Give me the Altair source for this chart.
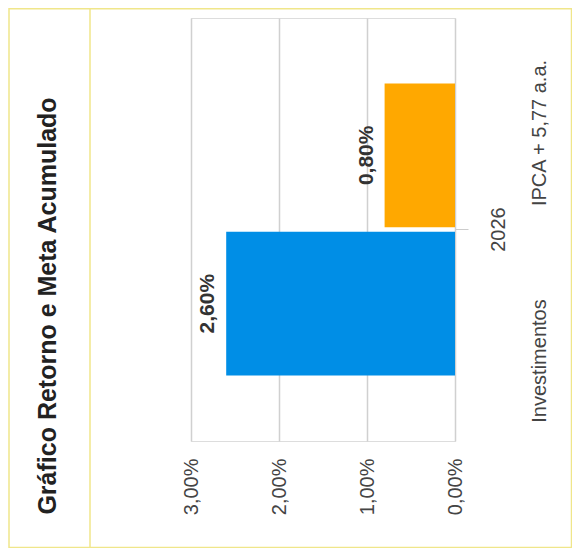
import altair as alt
import pandas as pd

# ---- data ----
titulo = "Gráfico Retorno e Meta Acumulado"
categorias = ["2026", "2026"]
series = ["Investimentos", "IPCA + 5,77 a.a."]
valores = [0.026, 0.008]
cores = ["#008ee6", "#ffa800"]
ticks_x = [0.0, 0.01, 0.02, 0.03]

df = pd.DataFrame({"categoria": categorias, "serie": series, "valor": valores})

FONT = "Liberation Sans"
fmt = "replace(format(datum.value, '.2%'), '.', ',')"

base = alt.Chart(df)

x_enc = alt.X(
    "valor:Q",
    scale=alt.Scale(domain=[0, 0.03], reverse=True, nice=False, zero=True),
    axis=alt.Axis(
        values=ticks_x, labelExpr=fmt, labelAngle=270, labelFontSize=20,
        labelColor="#444444", labelFont=FONT, labelPadding=17, ticks=False,
        domain=False, gridColor="#d0d0d0", gridWidth=1.5, title=None,
    ),
)
y_enc = alt.Y(
    "categoria:N",
    scale=alt.Scale(paddingInner=0, paddingOuter=0.224),
    axis=alt.Axis(
        orient="right", labelAngle=270, labelAlign="center", labelBaseline="top",
        labelFontSize=20, labelColor="#444444", labelFont=FONT, labelPadding=20,
        tickSize=13, tickColor="#cccccc", domain=False, grid=False, title=None,
    ),
)
yoff_enc = alt.YOffset(
    "serie:N", sort=[series[1], series[0]],
    scale=alt.Scale(paddingInner=0.03, paddingOuter=0),
)

bars = base.mark_bar().encode(
    x=x_enc, y=y_enc, yOffset=yoff_enc,
    color=alt.Color("serie:N", scale=alt.Scale(domain=series, range=cores), legend=None),
)

labels = base.transform_calculate(
    rot="replace(format(datum.valor, '.2%'), '.', ',')"
).mark_text(
    angle=270, align="center", baseline="alphabetic", dy=-12,
    fontSize=21, fontWeight="bold", color="#333333", font=FONT,
).encode(x="valor:Q", y="categoria:N", yOffset=yoff_enc, text="rot:N")

one = alt.Data(values=[{"a": 1}])

border = alt.Chart(one).mark_rect(
    fill=None, stroke="#f0e68a", strokeWidth=1.5
).encode(
    x=alt.value(-182), x2=alt.value(380.5), y=alt.value(-9.2), y2=alt.value(529.5)
)
divider = alt.Chart(one).mark_rule(
    stroke="#f0e68a", strokeWidth=1.5
).encode(x=alt.value(-101), y=alt.value(-10), y2=alt.value(530))

title_txt = alt.Chart(pd.DataFrame({"t": [titulo]})).mark_text(
    angle=270, align="center", baseline="middle", fontSize=25,
    fontWeight="bold", color="#222222", font=FONT,
).encode(x=alt.value(-143), y=alt.value(288), text="t:N")

leg1 = alt.Chart(pd.DataFrame({"t": [series[0]]})).mark_text(
    angle=270, align="center", baseline="middle", fontSize=20,
    color="#444444", font=FONT,
).encode(x=alt.value(349), y=alt.value(343), text="t:N")
leg2 = alt.Chart(pd.DataFrame({"t": [series[1]]})).mark_text(
    angle=270, align="center", baseline="middle", fontSize=20,
    color="#444444", font=FONT,
).encode(x=alt.value(349), y=alt.value(115), text="t:N")

chart = alt.layer(border, divider, title_txt, bars, labels, leg1, leg2).properties(
    width=264, height=423,
    autosize=alt.AutoSizeParams(type="none"),
    padding={"left": 183, "top": 10, "right": 117, "bottom": 107},
).configure_view(stroke=None).configure(font=FONT)

chart.save("out.html", embed_options={"renderer": "svg", "actions": False})
